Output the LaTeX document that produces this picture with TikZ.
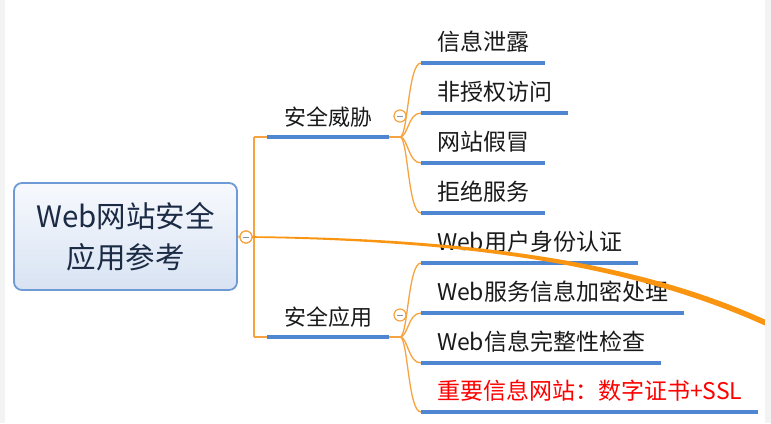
\documentclass[tikz,border=0pt]{standalone}
\usepackage{fontspec}
\newfontfamily\cjk{Noto Sans CJK SC}
\usetikzlibrary{calc}
\definecolor{ublue}{HTML}{4F86D1}
\definecolor{orng}{HTML}{F7A440}
\definecolor{relor}{HTML}{FA9512}
\definecolor{rootbd}{HTML}{6E9BD6}
\definecolor{roottop}{HTML}{F7F9FD}
\definecolor{rootbot}{HTML}{D8E3F3}
\definecolor{roottxt}{HTML}{1C2B45}
\definecolor{txt}{HTML}{1A1A1A}
\definecolor{edge}{HTML}{F3F3F3}
\definecolor{minus}{HTML}{7F93B3}
\tikzset{
  rootbox/.style={draw=rootbd, line width=1.8pt, rounded corners=8pt,
    top color=roottop, bottom color=rootbot, align=center,
    font=\cjk\fontsize{29.5}{41}\selectfont, text=roottxt,
    minimum width=223pt, minimum height=107pt, inner sep=0pt},
  branchnode/.style={anchor=south west, inner xsep=17pt, inner ysep=0pt,
    text depth=12pt, outer sep=0pt, font=\cjk\fontsize{22}{26}\selectfont, text=txt},
  leafnode/.style={anchor=south west, inner xsep=16pt, inner ysep=0pt,
    text depth=12.3pt, outer sep=0pt, font=\cjk\fontsize{23}{27}\selectfont, text=txt},
  uline/.style={draw=ublue, line width=4pt},
  oline/.style={draw=orng, line width=1.3pt},
  collapse/.style={circle, draw=orng, line width=1.2pt, fill=white,
    minimum size=12pt, inner sep=0pt, outer sep=0pt,
    path picture={\draw[minus, line width=1pt]
      ([xshift=-3pt]path picture bounding box.center) --
      ([xshift=3pt]path picture bounding box.center);}},
}
\begin{document}
\begin{tikzpicture}[x=1pt,y=-1pt]
\useasboundingbox (0,0) rectangle (771,423);
\fill[white] (0,0) rectangle (771,423);

% root
\node[rootbox] (root) at (125.5,236.5) {Web网站安全\\应用参考};
\node[collapse] (c0) at (246,237) {};

% trunk
\coordinate (vtop) at (254,137);
\coordinate (vmid) at (254,237);
\coordinate (vbot) at (254,337);

% branches
\node[branchnode] (b1) at (267,137) {安全威胁};
\node[branchnode] (b2) at (267,337) {安全应用};
\node[collapse] (c1) at (400,116) {};
\node[collapse] (c2) at (400,315) {};
\coordinate (j1) at (400,137);
\coordinate (j2) at (400,337);

% leaves, group 1
\node[leafnode] (k1) at (421,63) {信息泄露};
\node[leafnode] (k2) at (421,113) {非授权访问};
\node[leafnode] (k3) at (421,163) {网站假冒};
\node[leafnode] (k4) at (421,213) {拒绝服务};
% leaves, group 2
\node[leafnode] (m1) at (421,263) {Web用户身份认证};
\node[leafnode] (m2) at (421,313) {Web服务信息加密处理};
\node[leafnode] (m3) at (421,363) {Web信息完整性检查};
\node[leafnode, text=red] (m4) at (421,412) {重要信息网站：数字证书+SSL};

% orange connectors
\draw[oline] (root.east) -- (c0.west);
\draw[oline] (c0.east) -- (vmid);
\draw[oline] (vtop) -- (vbot);
\draw[oline] (vtop) -- (b1.south west);
\draw[oline] (vbot) -- (b2.south west);
\draw[oline] (b1.south east) -- (j1);
\draw[oline] (b2.south east) -- (j2);
\foreach \k in {k1,k2,k3,k4}
  \draw[oline] (j1) .. controls +(8,0) and +(-13,0) .. (\k.south west);
\foreach \k in {m1,m2,m3,m4}
  \draw[oline] (j2) .. controls +(8,0) and +(-13,0) .. (\k.south west);

% underlines
\foreach \n in {b1,b2,k1,k2,k3,k4,m1,m2,m3,m4}
  \draw[uline] (\n.south west) -- (\n.south east);

% relationship curve (tapered)
\coordinate (rend) at (766,323);
\fill[relor] ([yshift=0.8pt]c0.east) .. controls (500,238.5) and (650,267.5) .. ([yshift=3pt]rend)
  -- ([yshift=-3pt]rend) .. controls (650,273.5) and (500,241.5) .. ([yshift=-0.8pt]c0.east) -- cycle;

% redraw collapse marker on top
\node[collapse] at (c0) {};

% edge strips
\fill[edge] (0,0) rectangle (5,423);
\fill[edge] (765,0) rectangle (771,423);
\end{tikzpicture}
\end{document}
